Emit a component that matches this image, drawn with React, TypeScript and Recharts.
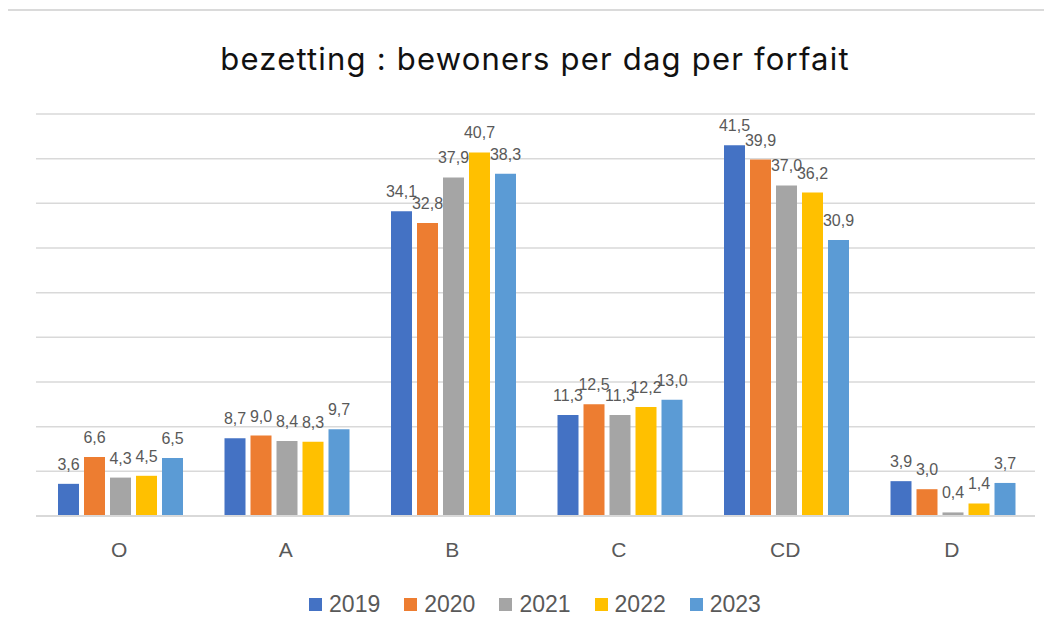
import { Bar, BarChart, CartesianGrid, LabelList, Legend, XAxis, YAxis } from 'recharts'

const categories = ['O', 'A', 'B', 'C', 'CD', 'D']
const years = ['2019', '2020', '2021', '2022', '2023']
const values2019 = [3.6, 8.7, 34.1, 11.3, 41.5, 3.9]
const values2020 = [6.6, 9.0, 32.8, 12.5, 39.9, 3.0]
const values2021 = [4.3, 8.4, 37.9, 11.3, 37.0, 0.4]
const values2022 = [4.5, 8.3, 40.7, 12.2, 36.2, 1.4]
const values2023 = [6.5, 9.7, 38.3, 13.0, 30.9, 3.7]
const yTicks = [0, 5, 10, 15, 20, 25, 30, 35, 40, 45]

const colors = ['#4472C4', '#ED7D31', '#A5A5A5', '#FFC000', '#5B9BD5']
const seriesValues = [values2019, values2020, values2021, values2022, values2023]

const data = categories.map((cat, i) => {
  const row: Record<string, string | number> = { cat }
  years.forEach((y, s) => { row[y] = seriesValues[s][i] })
  return row
})

const fmt = (v: unknown) => typeof v === 'number' ? v.toFixed(1).replace('.', ',') : String(v)
const textFont = '"Liberation Sans", Arial, sans-serif'

function LegendRow() {
  return (
    <div style={{ display: 'flex', justifyContent: 'center', gap: 24, height: 30, alignItems: 'center', fontFamily: textFont, fontSize: 23, color: '#595959' }}>
      {years.map((y, i) => (
        <div key={y} style={{ display: 'flex', alignItems: 'center', gap: 7 }}>
          <span style={{ width: 13, height: 13, background: colors[i], display: 'inline-block' }} />
          <span>{y}</span>
        </div>
      ))}
    </div>
  )
}

export default function App() {
  return (
    <div style={{ position: 'relative', width: 1052, height: 638, margin: -8, background: '#fff', overflow: 'hidden' }}>
      <div style={{ position: 'absolute', left: 6, top: 9, width: 1100, height: 700, borderTop: '2px solid #dadada', borderLeft: '2px solid #dadada', boxSizing: 'border-box' }} />
      <div style={{ position: 'absolute', left: 0, width: 1070, top: 41, textAlign: 'center', fontFamily: 'Inter, "Open Sans", sans-serif', fontSize: 31, letterSpacing: 1.2, lineHeight: '36px', color: '#111' }}>
        bezetting : bewoners per dag per forfait
      </div>
      <div style={{ position: 'absolute', left: 0, top: 0 }}>
        <BarChart width={1052} height={638} data={data} margin={{ top: 114, right: 17, left: 36, bottom: 42 }} barCategoryGap={22} barGap={5}>
          <CartesianGrid vertical={false} stroke="#d9d9d9" strokeWidth={1.5} />
          <YAxis hide domain={[0, 45]} ticks={yTicks} />
          <XAxis dataKey="cat" height={50} tickLine={false} axisLine={{ stroke: '#d9d9d9', strokeWidth: 2 }} tick={{ fill: '#595959', fontSize: 21, fontFamily: textFont }} tickMargin={20} />
          <Legend verticalAlign="bottom" content={() => <LegendRow />} wrapperStyle={{ top: 589, bottom: 'auto', left: 0, width: 1070 }} />
          {years.map((y, i) => (
            <Bar key={y} dataKey={y} fill={colors[i]} isAnimationActive={false}>
              <LabelList dataKey={y} position="top" offset={14} formatter={fmt} fill="#595959" fontSize={16} fontFamily={textFont} />
            </Bar>
          ))}
        </BarChart>
      </div>
    </div>
  )
}
